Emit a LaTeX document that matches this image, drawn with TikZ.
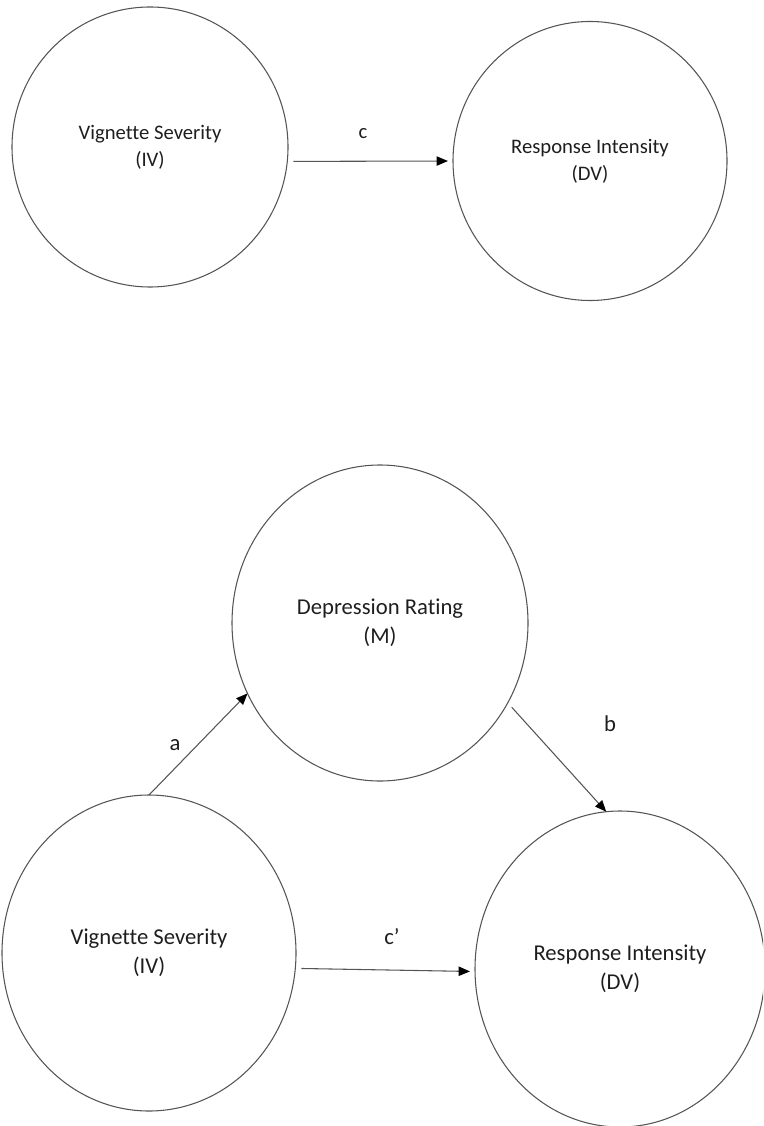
\documentclass[tikz,border=0pt]{standalone}
\usepackage{fontspec}
\setmainfont{Carlito}[Ligatures=NoCommon]
\usetikzlibrary{shapes.geometric,arrows.meta}
\definecolor{linegray}{HTML}{555555}
\definecolor{textgray}{HTML}{1E1E1E}
\tikzset{
  varnode/.style={ellipse, draw=linegray, line width=0.8pt, outer sep=0pt, inner sep=0pt, align=center, text=textgray},
  topfont/.style={font=\fontsize{15.5}{20.3}\selectfont},
  botfont/.style={font=\fontsize{17}{21.8}\selectfont},
  arr/.style={draw=linegray, line width=0.8pt, -{Triangle[length=8.5pt,width=7pt,color=black]}},
  lab/.style={text=textgray, inner sep=0pt}
}
\begin{document}
\begin{tikzpicture}[x=0.75pt,y=-0.75pt]
\useasboundingbox (0,0) rectangle (763,1126);
\clip (0,0) rectangle (763,1126);
% top diagram
\node[varnode, topfont, minimum width=276*0.75pt, minimum height=280*0.75pt] (tl) at (150,147) {Vignette Severity\\(IV)};
\node[varnode, topfont, minimum width=274*0.75pt, minimum height=279*0.75pt] (tr) at (590,161) {Response Intensity\\(DV)};
\draw[arr, shorten <=4.5pt, shorten >=3.8pt] (tl.-6) -- (tr.180);
\node[lab, topfont] (lc) at (363,134) {c};
% bottom diagram
\node[varnode, botfont, minimum width=296*0.75pt, minimum height=316*0.75pt] (m) at (380,623) {Depression Rating\\(M)};
\node[varnode, botfont, minimum width=294*0.75pt, minimum height=316*0.75pt] (bl) at (149,953) {Vignette Severity\\(IV)};
\node[varnode, botfont, minimum width=290*0.75pt, minimum height=316*0.75pt] (br) at (620,969) {Response Intensity\\(DV)};
\draw[arr] (bl.north) -- (m.208);
\draw[arr, shorten <=4.5pt] (m.-32) -- (br.95);
\draw[arr, shorten <=4.5pt, shorten >=3.8pt] (bl.-6) -- (br.181);
\node[lab, botfont] (la) at (175,745) {a};
\node[lab, botfont] (lb) at (610,724) {b};
\node[lab, botfont] (lcp) at (392,937) {c’};
\end{tikzpicture}
\end{document}
